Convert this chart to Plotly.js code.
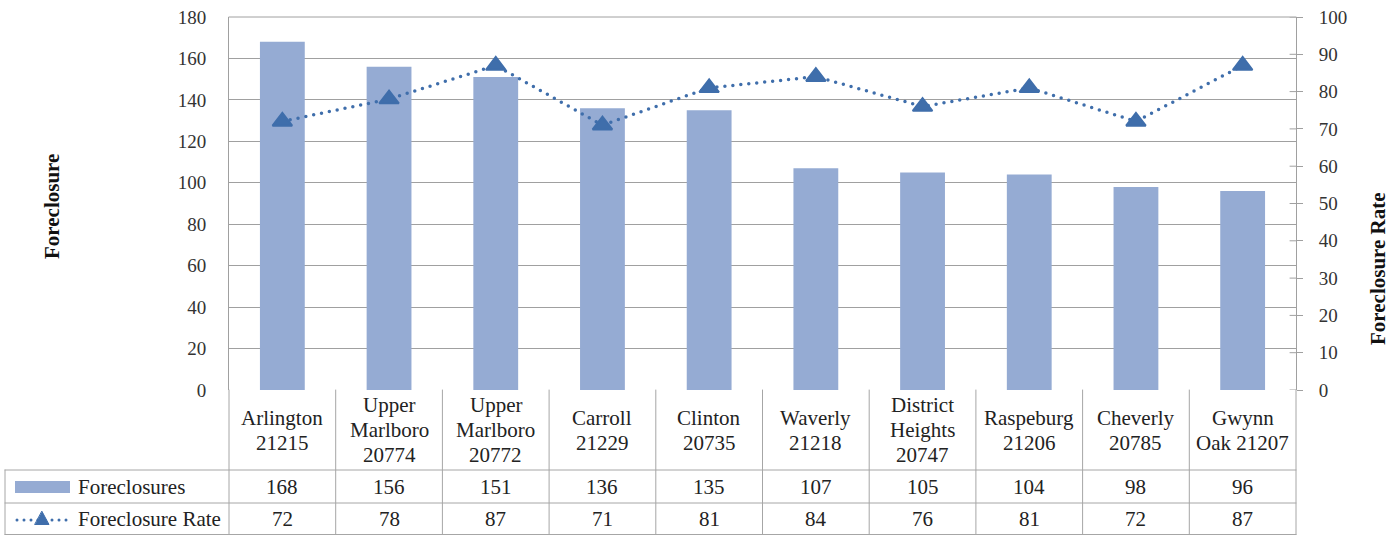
<!DOCTYPE html>
<html>
<head>
<meta charset="utf-8">
<script src="https://cdn.plot.ly/plotly-3.0.1.min.js"></script>
<style>
html,body{margin:0;padding:0;background:#fff;}
#chart{width:1400px;height:535px;}
#chart .scatterlayer .js-line{stroke-linecap:round;}
#chart .shapelayer path{stroke-linecap:round;}
</style>
</head>
<body>
<div id="chart"></div>
<script>
// ---- data ----
const categories = ["Arlington<br>21215", "Upper<br>Marlboro<br>20774", "Upper<br>Marlboro<br>20772", "Carroll<br>21229", "Clinton<br>20735", "Waverly<br>21218", "District<br>Heights<br>20747", "Raspeburg<br>21206", "Cheverly<br>20785", "Gwynn<br>Oak 21207"];
const foreclosures = [168, 156, 151, 136, 135, 107, 105, 104, 98, 96];
const foreclosureRate = [72, 78, 87, 71, 81, 84, 76, 81, 72, 87];
const seriesNames = ["Foreclosures", "Foreclosure Rate"];
const axisTitles = ["Foreclosure", "Foreclosure Rate"];
const leftTicks = [0, 20, 40, 60, 80, 100, 120, 140, 160, 180];
const rightTicks = [0, 10, 20, 30, 40, 50, 60, 70, 80, 90, 100];

// ---- layout geometry (pixels) ----
const W = 1400, H = 535;
const L = 229, R = 1296, T = 17, B = 390;
const pw = R - L, ph = B - T;
const px2x = p => (p - L) / pw;
const px2y = p => (B - p) / ph;

const barColor = "#95abd3";
const lineColor = "#3f6eab";
const gridColor = "#a0a0a0";
const tableColor = "#a6a6a6";
const serif = "Liberation Serif";
const dotDash = "0px,8px";

const idx = categories.map((_, i) => i);

const traces = [
  {
    type: "bar", x: idx, y: foreclosures, name: seriesNames[0],
    marker: {color: barColor}, width: 0.42, showlegend: false
  },
  {
    type: "scatter", mode: "lines+markers", x: idx, y: foreclosureRate, yaxis: "y2",
    name: seriesNames[1],
    line: {color: lineColor, width: 3.5, dash: dotDash},
    marker: {symbol: "triangle-up", size: 17, color: lineColor, line: {color: lineColor, width: 2}},
    showlegend: false
  }
];

const shapes = [];
const annotations = [];
const lineH = (x0, x1, y, c) => shapes.push({type: "line", xref: "paper", yref: "paper", x0: px2x(x0), x1: px2x(x1), y0: px2y(y), y1: px2y(y), line: {color: c || tableColor, width: 1}, layer: "above"});
const lineV = (x, y0, y1, c) => shapes.push({type: "line", xref: "paper", yref: "paper", x0: px2x(x), x1: px2x(x), y0: px2y(y0), y1: px2y(y1), line: {color: c || tableColor, width: 1}, layer: "above"});

// plot border top
lineH(L, R, T, gridColor);

// table grid
lineH(5, R, 470);
lineH(5, R, 503);
lineH(5, R, 534.5);
lineV(5, 470, 535);
for (let i = 0; i <= categories.length; i++) {
  lineV(L + pw * i / categories.length, B, 535);
}

const txtFont = {family: serif, size: 21, color: "#222"};
// header labels (line by line)
const headerC = (B + 470) / 2, lineSpacing = 25;
categories.forEach((c, i) => {
  const lines = c.split("<br>");
  lines.forEach((ln, k) => {
    const yp = headerC + (k - (lines.length - 1) / 2) * lineSpacing;
    annotations.push({xref: "x", yref: "paper", x: i, y: px2y(yp), text: ln, showarrow: false,
      xanchor: "center", yanchor: "middle", font: txtFont});
  });
});
// data rows
const rowC = [(470 + 503) / 2, (503 + 535) / 2];
[foreclosures, foreclosureRate].forEach((arr, r) => {
  arr.forEach((v, i) => {
    annotations.push({xref: "x", yref: "paper", x: i, y: px2y(rowC[r]), text: String(v), showarrow: false,
      xanchor: "center", yanchor: "middle", font: txtFont});
  });
  annotations.push({xref: "paper", yref: "paper", x: px2x(76), y: px2y(rowC[r]), text: seriesNames[r], showarrow: false,
    xanchor: "left", yanchor: "middle", font: txtFont});
});
// axis titles
annotations.push({xref: "paper", yref: "paper", x: px2x(52), y: px2y(207), text: "<b>" + axisTitles[0] + "</b>",
  textangle: -90, showarrow: false, xanchor: "center", yanchor: "middle", font: {family: serif, size: 21, color: "#111"}});
annotations.push({xref: "paper", yref: "paper", x: px2x(1378), y: px2y(269), text: "<b>" + axisTitles[1] + "</b>",
  textangle: -90, showarrow: false, xanchor: "center", yanchor: "middle", font: {family: serif, size: 21, color: "#111"}});

// legend keys
shapes.push({type: "rect", xref: "paper", yref: "paper", x0: px2x(15), x1: px2x(70), y0: px2y(481), y1: px2y(493), fillcolor: barColor, line: {width: 0}});
shapes.push({type: "line", xref: "paper", yref: "paper", x0: px2x(17), x1: px2x(70), y0: px2y(520), y1: px2y(520), line: {color: lineColor, width: 3, dash: "0px,7px"}});
{
  const cx = 42, cy = 518, hw = 7, h = 13;
  shapes.push({type: "path", xref: "paper", yref: "paper",
    path: `M ${px2x(cx - hw)} ${px2y(cy + h / 2)} L ${px2x(cx + hw)} ${px2y(cy + h / 2)} L ${px2x(cx)} ${px2y(cy - h / 2)} Z`,
    fillcolor: lineColor, line: {color: lineColor, width: 1}});
}
// crossing ticks on the right axis (inside part)
rightTicks.forEach(t => {
  shapes.push({type: "line", xref: "paper", yref: "y2", x0: px2x(R - 6), x1: 1, y0: t, y1: t, line: {color: gridColor, width: 1}});
});

const layout = {
  width: W, height: H,
  margin: {l: L, r: W - R, t: T, b: H - B, pad: 0},
  paper_bgcolor: "#fff", plot_bgcolor: "#fff",
  font: {family: serif, size: 19, color: "#333"},
  xaxis: {
    range: [-0.5, categories.length - 0.5], showticklabels: false, ticks: "",
    showgrid: false, zeroline: false, showline: false, fixedrange: true
  },
  yaxis: {
    range: [0, 180], tickvals: leftTicks, ticktext: leftTicks.map(String),
    showgrid: true, gridcolor: gridColor, gridwidth: 1, zeroline: false,
    showline: true, linecolor: gridColor, linewidth: 1, ticks: "",
    tickfont: {family: serif, size: 19, color: "#333"}, ticklabelstandoff: 18
  },
  yaxis2: {
    range: [0, 100], tickvals: rightTicks, ticktext: rightTicks.map(String),
    overlaying: "y", side: "right", showgrid: false, zeroline: false,
    showline: true, linecolor: gridColor, linewidth: 1, ticks: "outside", ticklen: 6, tickcolor: gridColor,
    tickfont: {family: serif, size: 19, color: "#333"}, ticklabelstandoff: 12
  },
  shapes: shapes,
  annotations: annotations,
  showlegend: false
};

Plotly.newPlot("chart", traces, layout, {displayModeBar: false, staticPlot: true});
</script>
</body>
</html>
